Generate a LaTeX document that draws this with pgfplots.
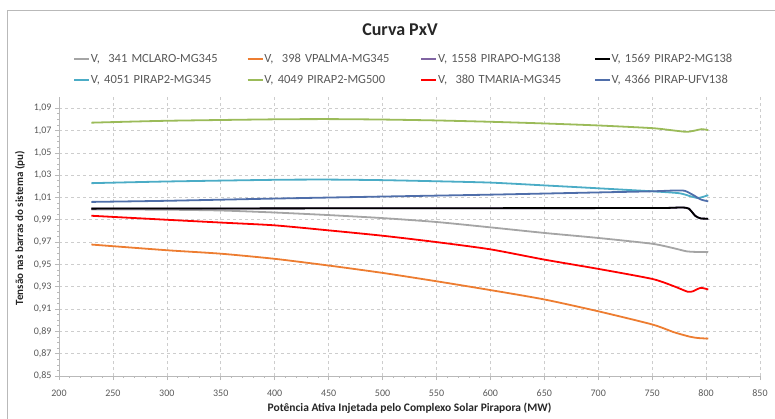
\documentclass[border=0pt]{standalone}
\usepackage{pgfplots}
\pgfplotsset{compat=1.18}
\usepackage{fontspec}
\setmainfont{Carlito}
\definecolor{cgray}{RGB}{165,165,165}
\definecolor{corange}{RGB}{237,125,49}
\definecolor{cpurple}{RGB}{128,100,162}
\definecolor{cteal}{RGB}{75,172,198}
\definecolor{cgreen}{RGB}{155,187,89}
\definecolor{cred}{RGB}{255,0,0}
\definecolor{cblue}{RGB}{79,110,170}
\definecolor{gridc}{RGB}{205,205,205}
\definecolor{axc}{RGB}{185,185,185}
\definecolor{txt}{RGB}{89,89,89}
\begin{document}
\begin{tikzpicture}[x=1pt,y=1pt]
\useasboundingbox (0,0) rectangle (775,-418);
\draw[color=axc, line width=0.8pt] (7,-425) -- (7,-10) -- (780,-10);
\node[font=\fontsize{18}{20}\selectfont\bfseries, text=black!85] at (400,-30) {Curva PxV};
\begin{axis}[
  at={(59pt,-376pt)}, anchor=south west,
  scale only axis, width=701pt, height=279pt,
  xmin=200, xmax=850, ymin=0.85, ymax=1.10,
  xtick={200,250,...,850},
  ytick={0.85,0.87,0.89,0.91,0.93,0.95,0.97,0.99,1.01,1.03,1.05,1.07,1.09},
  minor x tick num=4, minor y tick num=3,
  axis x line*=bottom, axis y line*=left,
  axis line style={axc, line width=0.8pt},
  tick style={axc, line width=0.6pt},
  tick align=outside, major tick length=4pt, minor tick length=2pt,
  xmajorgrids, ymajorgrids,
  grid style={gridc, dashed, line width=0.6pt},
  /pgf/number format/assume math mode=true,
  yticklabel style={/pgf/number format/.cd, use comma, fixed, fixed zerofill, precision=2},
  xticklabel style={yshift=-6pt, /pgf/number format/.cd, set thousands separator={}},
  tick label style={font=\fontsize{10}{12}\selectfont, text=txt},
  xlabel={Potência Ativa Injetada pelo Complexo Solar Pirapora (MW)},
  ylabel={Tensão nas barras do sistema (pu)},
  xlabel style={font=\fontsize{11.5}{13}\selectfont\bfseries, text=black!85, at={(axis description cs:0.5,-0.1147)}, anchor=center},
  ylabel style={font=\fontsize{11}{13}\selectfont\bfseries, text=black!85, at={(axis description cs:-0.0556,0.53)}, anchor=center},
  legend columns=4,
  legend image code/.code={\draw[#1, line width=1.6pt] (0pt,0pt) -- (15pt,0pt);},
  legend style={at={(axis description cs:0.0157,1.1685)}, anchor=north west, draw=none, fill=none,
    font=\fontsize{12.5}{14}\selectfont, text=txt, row sep=7pt,
    nodes={text width=155pt, align=left, inner xsep=1pt}},
  every axis plot/.append style={line width=1.8pt, smooth, tension=0.4},
]
\addplot[cgray] coordinates {(230,0.9993) (300,0.9990) (350,0.9983) (400,0.9965) (450,0.9942) (500,0.9915) (550,0.9880) (600,0.9832) (650,0.9782) (700,0.9737) (750,0.9685) (770,0.9645) (782,0.9617) (790,0.9612) (802,0.9610)};
\addlegendentry{V,~~341 MCLARO-MG345}
\addplot[corange] coordinates {(230,0.9678) (300,0.9627) (350,0.9596) (400,0.9550) (450,0.9490) (500,0.9424) (550,0.9349) (600,0.9270) (650,0.9186) (700,0.9080) (750,0.8962) (770,0.8893) (785,0.8852) (793,0.8840) (802,0.8835)};
\addlegendentry{V,~~398 VPALMA-MG345}
\addplot[cpurple] coordinates {(230,1.0000) (400,1.0002) (600,1.0004) (750,1.0005) (770,1.0008) (778,1.0010) (784,1.0000) (790,0.9935) (795,0.9912) (802,0.9910)};
\addlegendentry{V, 1558 PIRAPO-MG138}
\addplot[black] coordinates {(230,1.0000) (400,1.0002) (600,1.0004) (750,1.0005) (770,1.0008) (778,1.0010) (784,1.0000) (790,0.9935) (795,0.9912) (802,0.9910)};
\addlegendentry{V, 1569 PIRAP2-MG138}
\addplot[cteal] coordinates {(230,1.0228) (300,1.0243) (400,1.0258) (450,1.0260) (500,1.0255) (550,1.0245) (600,1.0233) (650,1.0208) (700,1.0182) (750,1.0155) (775,1.0138) (785,1.0112) (792,1.0095) (797,1.0105) (802,1.0120)};
\addlegendentry{V, 4051 PIRAP2-MG345}
\addplot[cgreen] coordinates {(230,1.0770) (300,1.0787) (400,1.0800) (450,1.0802) (500,1.0798) (550,1.0790) (600,1.0778) (650,1.0763) (700,1.0745) (750,1.0721) (770,1.0700) (782,1.0688) (790,1.0700) (796,1.0712) (802,1.0703)};
\addlegendentry{V, 4049 PIRAP2-MG500}
\addplot[cred] coordinates {(230,0.9936) (300,0.9900) (350,0.9875) (400,0.9850) (450,0.9805) (500,0.9757) (550,0.9700) (600,0.9635) (650,0.9543) (700,0.9460) (750,0.9370) (770,0.9305) (783,0.9255) (788,0.9260) (795,0.9290) (802,0.9275)};
\addlegendentry{V,~~380 TMARIA-MG345}
\addplot[cblue] coordinates {(230,1.0060) (300,1.0070) (400,1.0090) (500,1.0108) (600,1.0125) (700,1.0145) (750,1.0155) (770,1.0162) (780,1.0160) (788,1.0122) (795,1.0082) (802,1.0065)};
\addlegendentry{V, 4366 PIRAP-UFV138}
\end{axis}
\end{tikzpicture}
\end{document}
